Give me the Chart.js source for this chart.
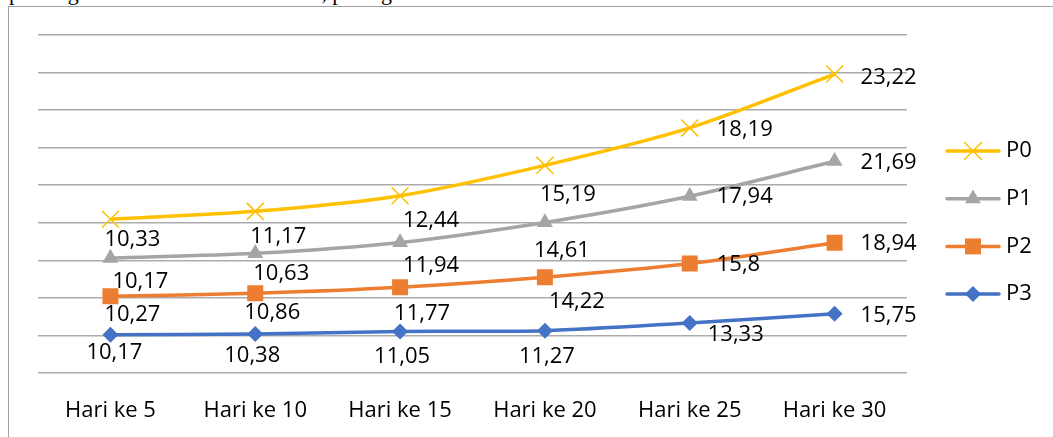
<!DOCTYPE html>
<html lang="id">
<head>
  <meta charset="UTF-8" />
  <title>Grafik P0 - P3</title>
  <script src="https://cdn.jsdelivr.net/npm/chart.js"></script>
  <style>
    body { margin: 0; background: #fff; }
    .wrap { position: relative; width: 1053px; height: 437px; overflow: hidden; }
    .cut-text { position: absolute; left: 9px; top: -19px; font: 22px/24px "Liberation Serif", serif; color: #000; white-space: nowrap; }
    .frame { position: absolute; left: 8px; top: 6px; right: -2px; bottom: -2px; border-top: 1px solid #a0a0a0; border-left: 1px solid #a0a0a0; }
    canvas { position: absolute; left: 0; top: 0; }
  </style>
</head>
<body>
  <div class="wrap">
    <div class="cut-text">pemangkasan dan tanaman berbeda, perangkat tumbuh</div>
    <div class="frame"></div>
    <canvas id="chart" width="1053" height="437"></canvas>
  </div>

  <script>
    const categories = ['Hari ke 5', 'Hari ke 10', 'Hari ke 15', 'Hari ke 20', 'Hari ke 25', 'Hari ke 30'];
    const p0 = [10.33, 11.17, 12.44, 15.19, 18.19, 23.22];
    const p1 = [10.17, 10.63, 11.94, 14.61, 17.94, 21.69];
    const p2 = [10.27, 10.86, 11.77, 14.22, 15.8, 18.94];
    const p3 = [10.17, 10.38, 11.05, 11.27, 13.33, 15.75];
    const yTicks = [0, 90, 10]; // min, max, step (labels hidden)

    const FONT = '"Open Sans", sans-serif';

    // label offsets from the point: left edge dx, centre dy (per series, per category)
    const labelPos = {
      P0: [[-6, 20], [-5, 25], [3, 25], [-5, 29], [27, 2], [26, 4]],
      P1: [[2, 24], [-2, 20], [3, 23], [-11, 28], [27, 1], [26, 1]],
      P2: [[-6, 18], [-11, 20], [-6, 26], [4, 24], [27, 1], [26, 1]],
      P3: [[-24, 18], [-31, 22], [-26, 25], [-26, 26], [18, 12], [26, 2]]
    };

    const valueLabels = {
      id: 'valueLabels',
      afterDatasetsDraw(chart) {
        const ctx = chart.ctx;
        ctx.save();
        ctx.font = '22px ' + FONT;
        ctx.fillStyle = '#000';
        ctx.textAlign = 'left';
        ctx.textBaseline = 'middle';
        chart.data.datasets.forEach((ds, di) => {
          const meta = chart.getDatasetMeta(di);
          meta.data.forEach((pt, i) => {
            const off = labelPos[ds.label][i];
            const txt = String(ds.data[i]).replace('.', ',');
            ctx.fillText(txt, pt.x + off[0], pt.y + off[1]);
          });
        });
        ctx.restore();
      }
    };

    const sideLegend = {
      id: 'sideLegend',
      afterDraw(chart) {
        const ctx = chart.ctx;
        const order = ['P0', 'P1', 'P2', 'P3'];
        ctx.save();
        order.forEach((name, i) => {
          const ds = chart.data.datasets.find(d => d.label === name);
          const y = 151 + i * 47.7;
          ctx.strokeStyle = ds.borderColor;
          ctx.lineWidth = 3.5;
          ctx.lineCap = 'round';
          ctx.beginPath();
          ctx.moveTo(947, y);
          ctx.lineTo(999, y);
          ctx.stroke();
          ctx.fillStyle = ds.pointBackgroundColor;
          ctx.strokeStyle = ds.pointBorderColor;
          ctx.lineWidth = ds.pointBorderWidth;
          Chart.helpers.drawPoint(ctx, {
            pointStyle: ds.pointStyle,
            radius: ds.pointRadius,
            borderWidth: ds.pointBorderWidth,
            rotation: 0
          }, 973, y);
          ctx.fillStyle = '#000';
          ctx.font = '22px ' + FONT;
          ctx.textAlign = 'left';
          ctx.textBaseline = 'middle';
          ctx.fillText(name, 1006, y);
        });
        ctx.restore();
      }
    };

    function series(label, data, color, style, radius, bw) {
      return {
        label: label,
        data: data,
        borderColor: color,
        backgroundColor: color,
        borderWidth: 3.5,
        pointStyle: style,
        pointRadius: radius,
        pointHoverRadius: radius,
        pointBackgroundColor: color,
        pointBorderColor: color,
        pointBorderWidth: bw,
        tension: 0.3,
        fill: false
      };
    }

    // stacked line: first dataset sits at the bottom
    new Chart(document.getElementById('chart'), {
      type: 'line',
      data: {
        labels: categories,
        datasets: [
          series('P3', p3, '#4472C4', 'rectRot', 8, 0),
          series('P2', p2, '#ED7D31', 'rect', 11.3, 0),
          series('P1', p1, '#A5A5A5', 'triangle', 9.2, 0),
          series('P0', p0, '#FFC000', 'crossRot', 12, 1.5)
        ]
      },
      options: {
        responsive: false,
        animation: false,
        layout: { padding: { left: 38, right: 146, top: 35, bottom: 0 } },
        plugins: {
          legend: { display: false },
          tooltip: { enabled: false }
        },
        scales: {
          x: {
            offset: true,
            grid: { display: false },
            border: { display: false },
            ticks: { color: '#000', font: { family: FONT, size: 22 }, padding: 17, maxRotation: 0 },
            afterFit(scale) { scale.height = 64; }
          },
          y: {
            stacked: true,
            min: yTicks[0],
            max: yTicks[1],
            ticks: { display: false, stepSize: yTicks[2] },
            grid: { color: '#ababab', lineWidth: 1.5, drawTicks: false },
            border: { display: false }
          }
        }
      },
      plugins: [valueLabels, sideLegend]
    });
  </script>
</body>
</html>
